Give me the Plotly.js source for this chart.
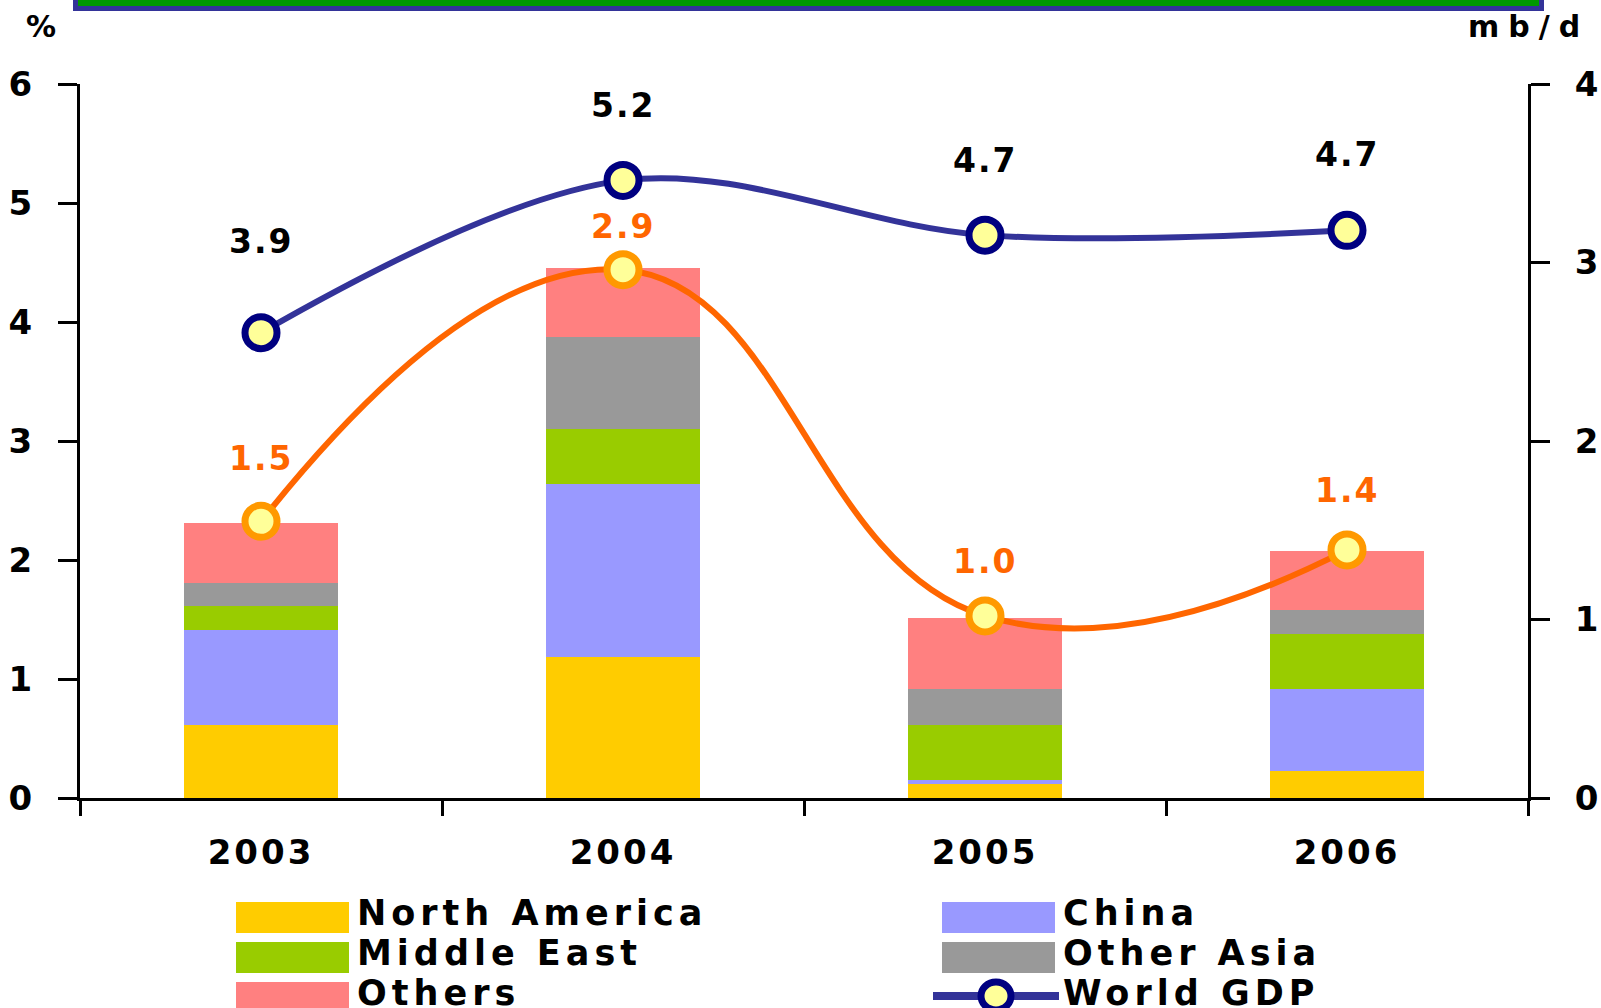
<!DOCTYPE html>
<html>
<head>
<meta charset="utf-8">
<script src="https://cdn.plot.ly/plotly-3.0.1.min.js"></script>
<style>
  html, body { margin: 0; padding: 0; background: #fff; }
  #chart { width: 1601px; height: 1008px; }
  #chart .xtick text { letter-spacing: 3px; }
  #chart .ytick text, #chart .y2tick text { letter-spacing: 1px; }
</style>
</head>
<body>
<div id="chart"></div>
<script>
// oil demand growth by region (mb/d, right axis) and world GDP growth (%, left axis)
const years = ['2003', '2004', '2005', '2006'];
const northAmerica = [0.41, 0.79, 0.08, 0.15];
const china = [0.53, 0.97, 0.02, 0.46];
const middleEast = [0.135, 0.31, 0.31, 0.31];
const otherAsia = [0.13, 0.51, 0.20, 0.135];
const others = [0.335, 0.39, 0.40, 0.33];
const demandGrowth = [1.55, 2.96, 1.02, 1.39];
const demandLabels = ['1.5', '2.9', '1.0', '1.4'];
const worldGdp = [3.91, 5.19, 4.73, 4.77];
const gdpLabels = ['3.9', '5.2', '4.7', '4.7'];

const regionNames = ['North America', 'China', 'Middle East', 'Other Asia', 'Others'];
const regionValues = [northAmerica, china, middleEast, otherAsia, others];
const regionColors = ['#FFCC00', '#9999FF', '#99CC00', '#999999', '#FF8080'];

// label lift above each marker, px
const gdpLift = [91, 75, 75, 76];
const demandLift = [63, 43, 54, 59];

const FONT = 'DejaVu Sans';
const W = 1601, H = 1008;
const M = { l: 80, r: 73, t: 84, b: 210 };
const PW = W - M.l - M.r, PH = H - M.t - M.b;
function px(x) { return (x - M.l) / PW; }
function py(y) { return (H - M.b - y) / PH; }
function spaced(s, n) { return '<span style="letter-spacing:' + n + 'px">' + s + '</span>'; }

let traces = [];
for (let i = 0; i < regionNames.length; i++) {
  traces.push({
    x: years, y: regionValues[i], name: regionNames[i],
    type: 'bar', yaxis: 'y2',
    marker: { color: regionColors[i], line: { width: 0 } },
    showlegend: false
  });
}

const markerStyle = (edge) => ({ symbol: 'circle', size: 32, color: '#FFFF99', line: { color: edge, width: 7 } });

traces.push({
  x: years, y: demandGrowth, name: 'Total', type: 'scatter', mode: 'lines+markers',
  yaxis: 'y2', line: { color: '#FF6600', width: 6, shape: 'spline', smoothing: 1.3 },
  marker: markerStyle('#FF9900'), showlegend: false
});
traces.push({
  x: years, y: worldGdp, name: 'World GDP', type: 'scatter', mode: 'lines+markers',
  yaxis: 'y', line: { color: '#333399', width: 6, shape: 'spline', smoothing: 1 },
  marker: markerStyle('#000080'), showlegend: false
});

const bold = (size, color) => ({ family: FONT, size: size, color: color, weight: 'bold' });

let annotations = [];
years.forEach((yr, i) => {
  // category index keeps the year strings from being read as numbers
  annotations.push({ x: i, y: worldGdp[i], xref: 'x', yref: 'y', text: spaced(gdpLabels[i], 2),
    xanchor: 'center', yanchor: 'middle', showarrow: false, yshift: gdpLift[i],
    font: bold(33, '#000') });
  annotations.push({ x: i, y: demandGrowth[i], xref: 'x', yref: 'y2', text: spaced(demandLabels[i], 2),
    xanchor: 'center', yanchor: 'middle', showarrow: false, yshift: demandLift[i],
    font: bold(33, '#FF6600') });
});
annotations.push({ x: px(41), y: py(26), xref: 'paper', yref: 'paper', text: '%', showarrow: false,
  xanchor: 'center', yanchor: 'middle', font: bold(30, '#000') });
annotations.push({ x: px(1528), y: py(26), xref: 'paper', yref: 'paper', text: spaced('mb/d', 9),
  showarrow: false, xanchor: 'center', yanchor: 'middle', font: bold(30, '#000') });

// legend, two columns
let shapes = [];
const legendNames = regionNames.concat(['World GDP']);
const colX = [236, 942];
legendNames.forEach((nm, i) => {
  const c = i % 2, r = Math.floor(i / 2);
  const top = 902 + 40 * r;
  if (i < regionNames.length) {
    shapes.push({ type: 'rect', xref: 'paper', yref: 'paper', x0: px(colX[c]), x1: px(colX[c] + 113),
      y0: py(top), y1: py(top + 31), fillcolor: regionColors[i], line: { width: 0 } });
  } else {
    shapes.push({ type: 'line', xref: 'paper', yref: 'paper', x0: px(933), x1: px(1059),
      y0: py(top + 14), y1: py(top + 14), line: { color: '#333399', width: 8 } });
    shapes.push({ type: 'circle', xref: 'paper', yref: 'paper', x0: px(981), x1: px(1011),
      y0: py(top), y1: py(top + 28), fillcolor: '#FFFF99', line: { color: '#000080', width: 7 } });
  }
  annotations.push({ x: px(colX[c] + 119), y: py(top + 11), xref: 'paper', yref: 'paper',
    xanchor: 'left', yanchor: 'middle',
    text: spaced(nm, 5), showarrow: false, font: bold(35, '#000') });
});

// frame strip at the top
shapes.push({ type: 'rect', xref: 'paper', yref: 'paper', x0: px(75.5), x1: px(1541.5),
  y0: py(8.5), y1: py(-10), fillcolor: '#009900', line: { color: '#333399', width: 5 } });

const axisFont = bold(34, '#000');
const layout = {
  width: W, height: H, margin: M,
  paper_bgcolor: '#fff', plot_bgcolor: '#fff',
  barmode: 'stack', bargap: 0.575,
  showlegend: false,
  xaxis: { type: 'category', range: [-0.5, 3.5], showline: true, linecolor: '#000', linewidth: 3,
    ticks: 'outside', tickson: 'boundaries', ticklen: 15, tickwidth: 3, tickcolor: '#000',
    showgrid: false, tickangle: 0, tickfont: axisFont, ticklabelstandoff: 22 },
  yaxis: { range: [0, 6], dtick: 1, showline: true, linecolor: '#000', linewidth: 3, ticks: 'outside',
    ticklen: 19, tickwidth: 3, tickcolor: '#000', showgrid: false, zeroline: false,
    tickfont: axisFont, ticklabelstandoff: 18 },
  yaxis2: { range: [0, 4], dtick: 1, overlaying: 'y', side: 'right', showline: true, linecolor: '#000',
    linewidth: 3, ticks: 'outside', ticklen: 19, tickwidth: 3, tickcolor: '#000', showgrid: false,
    zeroline: false, tickfont: axisFont, ticklabelstandoff: 18 },
  annotations: annotations,
  shapes: shapes
};

Plotly.newPlot('chart', traces, layout, { staticPlot: true });
</script>
</body>
</html>
